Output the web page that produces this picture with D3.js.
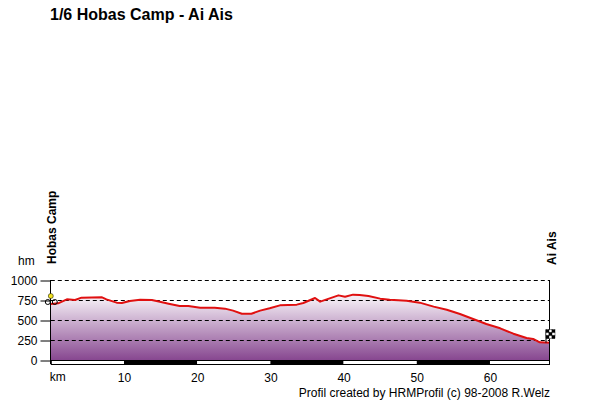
<!DOCTYPE html>
<html>
<head>
<meta charset="utf-8">
<script src="https://cdn.jsdelivr.net/npm/d3@7"></script>
<style>
  body { margin: 0; background: #fff; }
  text { font-family: "Liberation Sans", Arial, sans-serif; }
</style>
</head>
<body>
<svg id="chart"></svg>
<script>
const width = 600;
const height = 400;
const plot = {left: 50.8, right: 550, top: 280, bottom: 360};

const title = '1/6 Hobas Camp - Ai Ais';
const startName = 'Hobas Camp';
const endName = 'Ai Ais';
const credit = 'Profil created by HRMProfil (c) 98-2008 R.Welz';

const km = [0, 1.0, 2.2, 3.3, 4.2, 7.0, 7.6, 9.0, 9.7, 10.8, 12.2, 13.8, 14.9,
  16.1, 17.6, 18.8, 20.4, 22.4, 23.8, 24.9, 26.1, 27.4, 28.6, 29.9, 31.3, 33.6,
  34.5, 36.1, 36.8, 37.7, 39.3, 40.2, 41.3, 42.2, 43.4, 45.0, 46.3, 48.6, 50.4,
  52.3, 54.1, 55.9, 57.7, 59.5, 61.4, 63.2, 65.0, 65.9, 66.8, 68.2];
const elevation = [700, 708, 758, 750, 779, 783, 758, 717, 713, 738, 754, 750, 729,
  704, 675, 675, 652, 654, 642, 617, 579, 579, 617, 646, 683, 692,
  713, 775, 729, 758, 808, 790, 817, 813, 800, 767, 754, 742, 717,
  667, 629, 575, 513, 450, 396, 329, 275, 263, 221, 217];

const yTicks = [0, 250, 500, 750, 1000];
const xTicks = [10, 20, 30, 40, 50, 60];
const bandEdges = [0, 10, 20, 30, 40, 50, 60, 68.2];

const data = km.map((d, i) => ({km: d, ele: elevation[i]}));

const xScale = d3.scaleLinear()
  .domain([0, 68.2])
  .range([plot.left, plot.right]);

const yScale = d3.scaleLinear()
  .domain([0, 1000])
  .range([plot.bottom, plot.top]);

const chart = d3.select('#chart')
  .attr('width', width)
  .attr('height', height);

const grad = chart.append('defs').append('linearGradient')
  .attr('id', 'fill')
  .attr('gradientUnits', 'userSpaceOnUse')
  .attr('x1', 0).attr('x2', 0)
  .attr('y1', yScale(1000)).attr('y2', yScale(0));
grad.append('stop').attr('offset', '0%').attr('stop-color', '#ffffff');
grad.append('stop').attr('offset', '25%').attr('stop-color', '#f1e9f2');
grad.append('stop').attr('offset', '100%').attr('stop-color', '#874790');

chart.append('path')
  .datum(data)
  .attr('fill', 'url(#fill)')
  .attr('d', d3.area()
    .x(d => xScale(d.km))
    .y0(yScale(0))
    .y1(d => yScale(d.ele)));

// dashed grid
chart.append('g')
  .selectAll('line')
  .data(yTicks.filter(d => d > 0))
  .enter()
  .append('line')
  .attr('x1', plot.left)
  .attr('x2', plot.right)
  .attr('y1', d => Math.round(yScale(d)) + 0.5)
  .attr('y2', d => Math.round(yScale(d)) + 0.5)
  .attr('stroke', '#000')
  .attr('stroke-dasharray', '4,3');

chart.append('path')
  .datum(data)
  .attr('fill', 'none')
  .attr('stroke', '#e01010')
  .attr('stroke-width', 2)
  .attr('stroke-linejoin', 'round')
  .attr('d', d3.line()
    .x(d => xScale(d.km))
    .y(d => yScale(d.ele)));

// km band under the plot
const bands = d3.pairs(bandEdges);
chart.append('g')
  .selectAll('rect')
  .data(bands)
  .enter()
  .append('rect')
  .attr('x', d => xScale(d[0]))
  .attr('width', d => xScale(d[1]) - xScale(d[0]))
  .attr('y', plot.bottom)
  .attr('height', 4)
  .attr('fill', (d, i) => i % 2 ? '#000' : '#fff');
chart.append('rect')
  .attr('x', xScale(0) + 0.5)
  .attr('y', plot.bottom + 0.5)
  .attr('width', xScale(68.2) - xScale(0) - 1)
  .attr('height', 4)
  .attr('fill', 'none')
  .attr('stroke', '#000');

// axes
const yAxis = chart.append('g')
  .attr('transform', `translate(${Math.round(plot.left) - 0.5}, 0.5)`)
  .call(d3.axisLeft(yScale).tickValues(yTicks).tickFormat(d3.format('d'))
    .tickSize(10).tickPadding(3));
yAxis.select('.domain').remove();
yAxis.selectAll('text').attr('font-size', 12).attr('font-family', 'Liberation Sans, Arial, sans-serif');
chart.append('line')
  .attr('x1', Math.round(plot.left) - 0.5).attr('x2', Math.round(plot.left) - 0.5)
  .attr('y1', plot.top).attr('y2', plot.bottom + 4)
  .attr('stroke', '#000');
chart.append('line')
  .attr('x1', plot.right - 0.5).attr('x2', plot.right - 0.5)
  .attr('y1', plot.top).attr('y2', plot.bottom)
  .attr('stroke', '#000');

const xAxis = chart.append('g')
  .attr('transform', `translate(0, ${plot.bottom + 4})`)
  .call(d3.axisBottom(xScale).tickValues(xTicks).tickSize(0).tickPadding(9));
xAxis.select('.domain').remove();
xAxis.selectAll('text').attr('font-size', 12).attr('font-family', 'Liberation Sans, Arial, sans-serif');

chart.append('text')
  .attr('x', plot.left - 1)
  .attr('y', 381)
  .attr('font-size', 12)
  .text('km');

chart.append('text')
  .attr('x', 18)
  .attr('y', 265)
  .attr('font-size', 12)
  .text('hm');

// title and place names
chart.append('text')
  .attr('x', 50)
  .attr('y', 20)
  .attr('font-size', 16)
  .attr('font-weight', 'bold')
  .text(title);

chart.append('text')
  .attr('transform', `translate(${xScale(0) + 5}, 264) rotate(-90)`)
  .attr('font-size', 12)
  .attr('font-weight', 'bold')
  .text(startName);

chart.append('text')
  .attr('transform', `translate(${xScale(68.2) + 6}, 265) rotate(-90)`)
  .attr('font-size', 12)
  .attr('font-weight', 'bold')
  .text(endName);

chart.append('text')
  .attr('x', 550)
  .attr('y', 397)
  .attr('text-anchor', 'end')
  .attr('font-size', 12)
  .text(credit);

// start bike and finish flag markers
const first = data[0];
const last = data[data.length - 1];
const bike = chart.append('g')
  .attr('transform', `translate(${xScale(first.km)}, ${yScale(first.ele)})`);
bike.append('circle').attr('cx', -3).attr('cy', -2).attr('r', 2.5)
  .attr('fill', 'none').attr('stroke', '#000');
bike.append('circle').attr('cx', 4).attr('cy', -2).attr('r', 2.5)
  .attr('fill', 'none').attr('stroke', '#000');
bike.append('circle').attr('cx', 0).attr('cy', -8).attr('r', 2.5)
  .attr('fill', '#f0e020').attr('stroke', '#000').attr('stroke-width', 0.5);

const flag = chart.append('g')
  .attr('transform', `translate(${xScale(last.km) - 4}, ${yScale(last.ele)})`);
flag.append('line').attr('x1', 0).attr('x2', 0).attr('y1', 0).attr('y2', -13)
  .attr('stroke', '#000');
const cells = d3.cross([0, 1, 2], [0, 1, 2]);
flag.selectAll('rect')
  .data(cells)
  .enter()
  .append('rect')
  .attr('x', d => d[0] * 3)
  .attr('y', d => -13 + d[1] * 3)
  .attr('width', 3)
  .attr('height', 3)
  .attr('fill', d => (d[0] + d[1]) % 2 ? '#fff' : '#000')
  .attr('stroke', '#000')
  .attr('stroke-width', 0.4);
</script>
</body>
</html>
